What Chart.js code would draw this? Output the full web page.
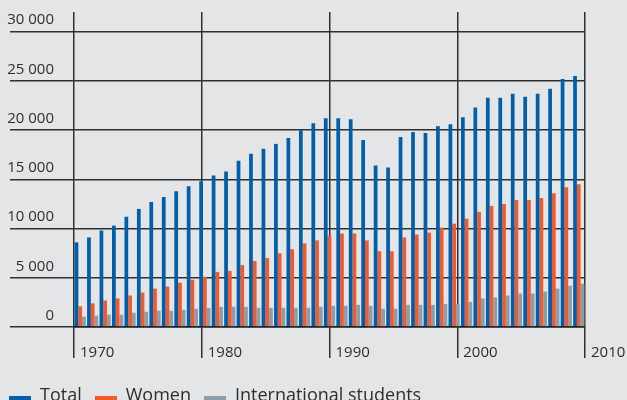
<!DOCTYPE html>
<html>
<head>
<meta charset="utf-8">
<script src="https://cdn.jsdelivr.net/npm/chart.js@4.4.1/dist/chart.umd.min.js"></script>
<style>
  html, body { margin: 0; padding: 0; background: #e4e5e7; overflow: hidden; }
  #wrap { position: relative; width: 627px; height: 415px; }
</style>
</head>
<body>
<div id="wrap"><canvas id="chart"></canvas></div>
<script>
// --- Data ---
const years = [
    '1970', '1971', '1972', '1973', '1974', '1975', '1976', '1977', '1978', '1979',
    '1980', '1981', '1982', '1983', '1984', '1985', '1986', '1987', '1988', '1989',
    '1990', '1991', '1992', '1993', '1994', '1995', '1996', '1997', '1998', '1999',
    '2000', '2001', '2002', '2003', '2004', '2005', '2006', '2007', '2008', '2009',
    '2010'
];

const total = [
    8600, 9100, 9800, 10300, 11200, 12000, 12700, 13200, 13800, 14300,
    14800, 15400, 15800, 16900, 17600, 18100, 18600, 19200, 20000, 20700,
    21200, 21200, 21100, 19000, 16400, 16200, 19300, 19800, 19700, 20400,
    20600, 21300, 22300, 23300, 23300, 23700, 23400, 23700, 24200, 25200,
    25500
];

const women = [
    2100, 2400, 2700, 2900, 3200, 3500, 3900, 4100, 4500, 4800,
    5100, 5600, 5700, 6300, 6700, 7000, 7500, 7900, 8500, 8800,
    9300, 9500, 9500, 8800, 7700, 7700, 9100, 9400, 9600, 10100,
    10500, 11000, 11700, 12300, 12500, 12900, 12900, 13100, 13600, 14200,
    14500
];

const international = [
    1050, 1150, 1250, 1250, 1450, 1550, 1650, 1650, 1750, 1850,
    1950, 2050, 2050, 2050, 1950, 1950, 1950, 1950, 1950, 2050,
    2150, 2150, 2250, 2150, 1850, 1850, 2250, 2250, 2250, 2350,
    2350, 2550, 2900, 3000, 3200, 3400, 3400, 3600, 3900, 4200,
    4400
];

const yTicks = [0, 5000, 10000, 15000, 20000, 25000, 30000];
const decadeTicks = [1970, 1980, 1990, 2000, 2010];

// --- Styles ---
const COLORS = ['#005eaa', '#f25a2c', '#8b9ea9'];
const GRID = '#303030';
const TEXT = '#2e2e2e';

Chart.defaults.font.family = "'Open Sans', sans-serif";
Chart.defaults.color = TEXT;

// "30 000" style with a plain space as thousands separator
function spaced(v) {
    return String(v).replace(/\B(?=(\d{3})+(?!\d))/g, ' ');
}

// legend swatch: a flat bar sitting low, near the text baseline
function makeSwatch(color) {
    const c = document.createElement('canvas');
    c.width = 22;
    c.height = 20;
    const g = c.getContext('2d');
    g.fillStyle = color;
    g.fillRect(0, 10, 22, 5);
    return c;
}
const swatches = COLORS.map(makeSwatch);

const ctx = document.getElementById('chart').getContext('2d');

new Chart(ctx, {
    type: 'bar',
    data: {
        labels: years,
        datasets: [
            { label: 'Total', data: total, backgroundColor: COLORS[0] },
            { label: 'Women', data: women, backgroundColor: COLORS[1] },
            { label: 'International students', data: international, backgroundColor: COLORS[2] }
        ]
    },
    options: {
        responsive: true,
        maintainAspectRatio: false,
        animation: false,
        layout: {
            // negative left so the legend's first swatch starts near the edge
            padding: { top: 12, right: 42, left: -4, bottom: 0 }
        },
        datasets: {
            bar: {
                categoryPercentage: 0.9,
                barPercentage: 1.0,
                borderWidth: 0
            }
        },
        plugins: {
            tooltip: { enabled: false },
            legend: {
                position: 'bottom',
                align: 'start',
                labels: {
                    usePointStyle: true,
                    pointStyleWidth: 22,
                    boxWidth: 22,
                    padding: 13,
                    color: TEXT,
                    font: { size: 18 },
                    generateLabels: (chart) => {
                        const items = Chart.defaults.plugins.legend.labels.generateLabels(chart);
                        return items.map((item, i) => ({ ...item, pointStyle: swatches[i] }));
                    }
                }
            }
        },
        scales: {
            // bars sit on a hidden category axis
            x: {
                type: 'category',
                display: false,
                offset: true
            },
            // decade lines and labels
            decade: {
                type: 'linear',
                axis: 'x',
                position: 'bottom',
                min: 1970,
                max: 2010,
                offset: false,
                afterBuildTicks: (scale) => {
                    scale.ticks = decadeTicks.map(v => ({ value: v }));
                },
                afterFit: (scale) => { scale.height = 47; },
                grid: {
                    offset: false,
                    color: GRID,
                    lineWidth: 1.5,
                    tickLength: 31
                },
                border: { display: true, color: '#111', width: 1.6 },
                ticks: {
                    align: 'start',
                    labelOffset: 6,
                    padding: -14,
                    font: { size: 15 },
                    callback: (v) => String(v)
                }
            },
            y: {
                min: 0,
                max: 32000,
                afterBuildTicks: (scale) => {
                    scale.ticks = yTicks.map(v => ({ value: v }));
                },
                afterFit: (scale) => { scale.width = 78; },
                grid: {
                    color: GRID,
                    lineWidth: 1.5,
                    tickLength: 64
                },
                border: { display: false },
                ticks: {
                    padding: -44,
                    labelOffset: -11.5,
                    font: { size: 15 },
                    callback: (v) => spaced(v)
                }
            }
        }
    }
});
</script>
</body>
</html>
